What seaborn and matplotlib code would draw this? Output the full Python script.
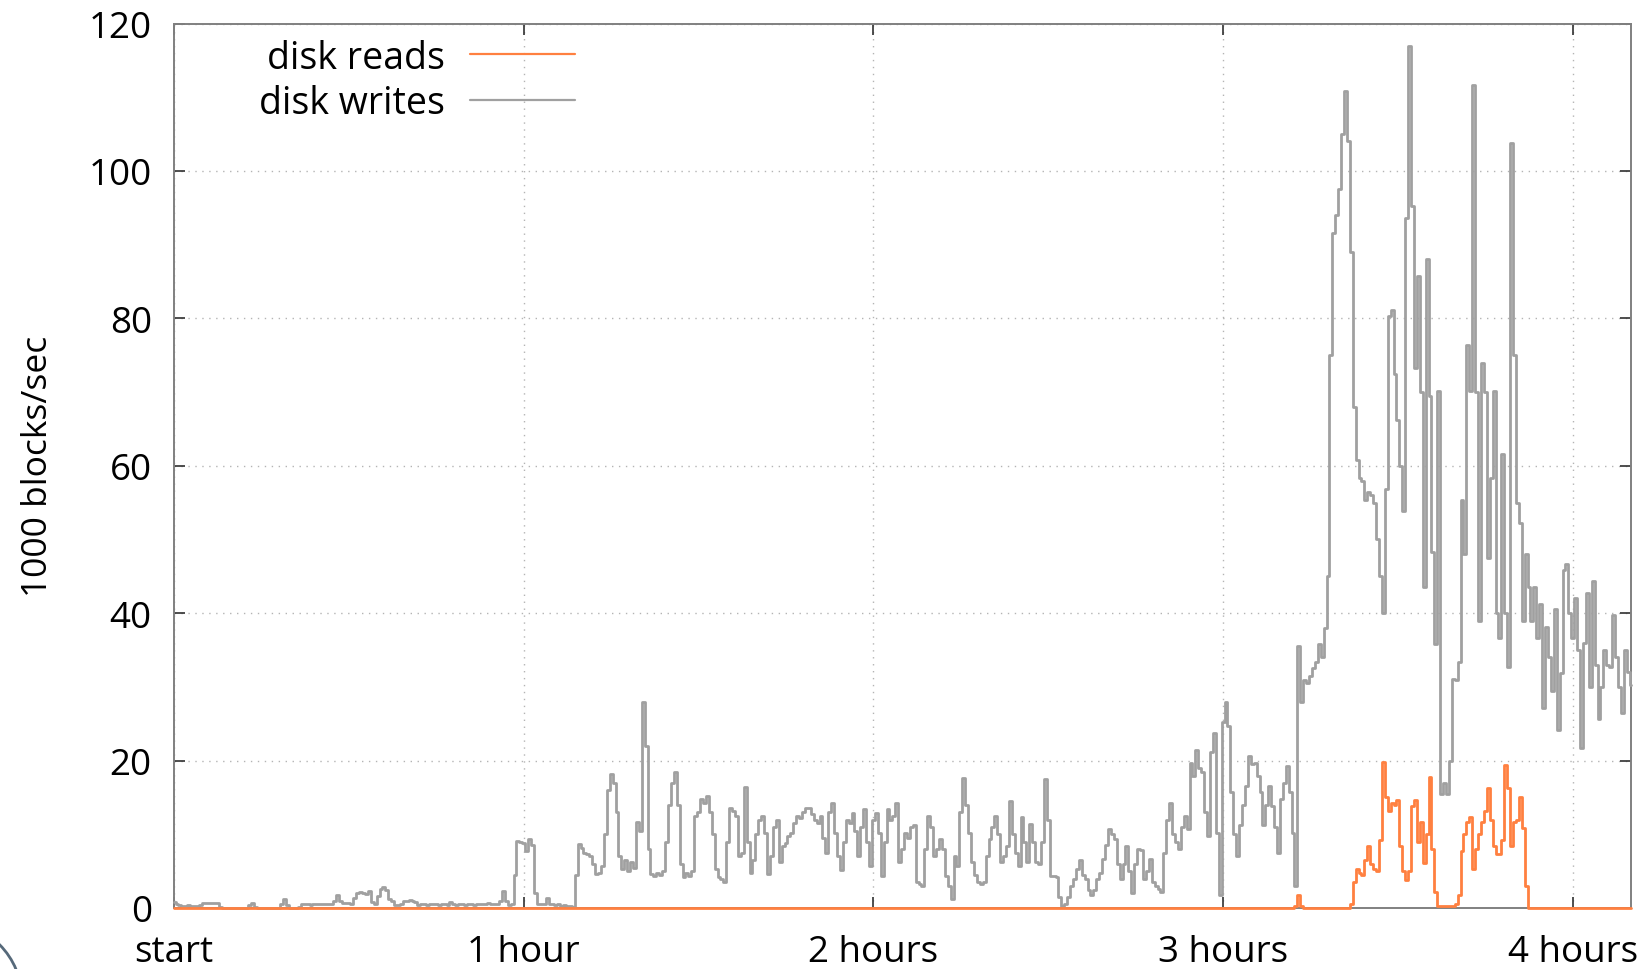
import numpy as np
import pandas as pd
import matplotlib
matplotlib.use("Agg")
import matplotlib.pyplot as plt
from matplotlib.patches import Arc
import seaborn as sns

# Sampling interval of the disk counters, in minutes
SAMPLE_MINUTES = 0.5

# Disk writes, 1000 blocks/sec, one value per half minute (rows = 10 minutes)
writes = [
    0.8, 0.6, 0.4, 0.3, 0.3, 0.4, 0.3, 0.3, 0.3, 0.4, 0.7, 0.7, 0.7, 0.7, 0.7, 0.7, 0.2, 0.0, 0.0, 0.0,
    0.0, 0.0, 0.0, 0.0, 0.0, 0.0, 0.4, 0.7, 0.2, 0.0, 0.0, 0.0, 0.0, 0.0, 0.0, 0.0, 0.0, 0.5, 1.2, 0.4,
    0.0, 0.0, 0.0, 0.2, 0.5, 0.5, 0.5, 0.4, 0.5, 0.5, 0.5, 0.5, 0.6, 0.5, 0.5, 1.0, 1.7, 0.9, 0.7, 0.7,
    0.7, 0.6, 1.4, 2.0, 2.2, 2.1, 1.9, 2.3, 0.8, 0.5, 1.6, 2.6, 2.9, 2.4, 1.2, 0.9, 0.4, 0.4, 0.5, 0.9,
    1.0, 1.1, 0.9, 0.8, 0.4, 0.5, 0.6, 0.4, 0.5, 0.6, 0.5, 0.4, 0.6, 0.5, 0.4, 0.8, 0.5, 0.4, 0.5, 0.5,
    0.4, 0.5, 0.6, 0.4, 0.5, 0.5, 0.6, 0.5, 0.7, 0.5, 0.6, 0.5, 0.9, 2.3, 1.0, 0.4, 0.5, 4.5, 9.1, 8.9,
    8.8, 7.7, 9.4, 8.5, 2.0, 0.5, 0.5, 0.6, 1.4, 0.5, 0.6, 0.4, 0.5, 0.3, 0.4, 0.3, 0.3, 0.2, 4.5, 8.7,
    8.2, 7.5, 7.3, 7.0, 6.0, 4.6, 4.8, 5.7, 10.0, 16.0, 18.2, 17.0, 13.0, 7.0, 5.3, 6.5, 5.0, 6.2, 5.4, 11.6,
    10.5, 27.9, 22.0, 8.0, 4.6, 4.4, 4.8, 4.5, 5.0, 9.0, 14.0, 17.0, 18.4, 14.0, 6.0, 4.2, 4.8, 4.4, 5.0, 12.5,
    13.0, 14.8, 14.2, 15.2, 13.0, 10.0, 5.3, 4.2, 3.9, 3.5, 9.0, 13.6, 13.2, 12.5, 7.1, 7.4, 16.4, 9.0, 4.8, 6.5,
    10.0, 12.0, 12.5, 10.2, 4.6, 7.0, 11.0, 12.0, 6.2, 8.4, 8.8, 9.8, 10.2, 11.5, 12.5, 12.2, 13.0, 13.5, 13.6, 12.8,
    12.0, 11.5, 12.5, 9.5, 7.5, 13.0, 14.3, 10.2, 7.0, 5.1, 9.0, 12.0, 11.5, 12.9, 10.5, 7.1, 11.0, 13.4, 9.0, 5.7,
    12.0, 12.9, 10.2, 4.4, 9.0, 13.4, 12.0, 12.5, 14.3, 6.2, 8.0, 10.2, 9.5, 11.0, 11.2, 3.5, 3.2, 3.0, 8.0, 12.5,
    11.0, 7.1, 8.0, 9.3, 8.0, 4.4, 3.0, 1.2, 7.1, 5.7, 13.0, 17.7, 14.0, 10.2, 6.2, 4.5, 3.5, 3.2, 3.5, 7.0,
    9.3, 11.0, 12.5, 10.0, 6.2, 7.0, 8.4, 14.5, 10.0, 7.5, 5.7, 12.3, 9.0, 6.2, 11.4, 9.0, 6.2, 6.0, 9.0, 17.5,
    12.0, 4.4, 4.4, 4.2, 1.5, 0.3, 0.5, 1.5, 3.0, 4.0, 5.3, 6.5, 4.5, 3.9, 2.5, 1.7, 2.5, 4.0, 4.8, 6.6,
    8.5, 10.7, 10.0, 9.3, 6.0, 3.9, 6.0, 8.4, 5.0, 2.1, 6.0, 8.0, 7.8, 3.9, 5.0, 6.6, 3.5, 3.0, 2.6, 2.2,
    7.5, 12.0, 14.3, 10.0, 8.9, 8.0, 11.0, 12.5, 10.7, 19.7, 17.9, 21.5, 19.0, 18.5, 13.0, 9.8, 21.1, 23.8, 10.2, 1.7,
    25.2, 27.9, 24.7, 15.7, 10.0, 7.1, 11.2, 14.0, 16.6, 20.6, 19.5, 19.7, 17.9, 15.7, 11.2, 14.0, 16.6, 13.9, 11.0, 7.5,
    14.8, 17.0, 19.3, 15.7, 10.2, 3.0, 35.5, 28.0, 31.0, 30.5, 31.5, 32.5, 33.4, 35.8, 34.0, 38.0, 45.0, 75.0, 91.6, 94.0,
    97.5, 105.0, 110.8, 104.0, 89.0, 68.0, 60.8, 58.4, 58.0, 55.3, 56.5, 56.0, 55.0, 50.0, 45.0, 40.0, 56.9, 80.3, 81.1, 72.5,
    66.2, 60.0, 53.8, 93.6, 117.0, 95.2, 73.3, 85.8, 70.0, 43.6, 88.1, 69.4, 48.3, 35.8, 70.2, 15.5, 17.0, 15.5, 20.0, 31.1,
    31.0, 33.4, 55.3, 48.0, 76.4, 70.2, 111.6, 70.0, 38.9, 74.0, 70.0, 47.5, 58.4, 70.2, 40.0, 36.6, 61.6, 40.0, 32.7, 103.8,
    75.0, 55.0, 52.2, 38.9, 48.0, 43.6, 38.9, 43.6, 36.6, 41.3, 27.2, 38.1, 34.0, 29.5, 40.5, 24.1, 31.9, 45.9, 46.7, 40.0,
    36.6, 42.0, 35.0, 21.7, 36.0, 42.8, 30.0, 44.4, 33.0, 25.6, 30.0, 35.0, 33.0, 32.7, 39.7, 34.0, 30.0, 26.4, 35.0, 32.0,
    30.3,
]

# Disk reads, 1000 blocks/sec, same clock
reads = [
    0, 0, 0, 0, 0, 0, 0, 0, 0, 0, 0, 0, 0, 0, 0, 0, 0, 0, 0, 0,
    0, 0, 0, 0, 0, 0, 0, 0, 0, 0, 0, 0, 0, 0, 0, 0, 0, 0, 0, 0,
    0, 0, 0, 0, 0, 0, 0, 0, 0, 0, 0, 0, 0, 0, 0, 0, 0, 0, 0, 0,
    0, 0, 0, 0, 0, 0, 0, 0, 0, 0, 0, 0, 0, 0, 0, 0, 0, 0, 0, 0,
    0, 0, 0, 0, 0, 0, 0, 0, 0, 0, 0, 0, 0, 0, 0, 0, 0, 0, 0, 0,
    0, 0, 0, 0, 0, 0, 0, 0, 0, 0, 0, 0, 0, 0, 0, 0, 0, 0, 0, 0,
    0, 0, 0, 0, 0, 0, 0, 0, 0, 0, 0, 0, 0, 0, 0, 0, 0, 0, 0, 0,
    0, 0, 0, 0, 0, 0, 0, 0, 0, 0, 0, 0, 0, 0, 0, 0, 0, 0, 0, 0,
    0, 0, 0, 0, 0, 0, 0, 0, 0, 0, 0, 0, 0, 0, 0, 0, 0, 0, 0, 0,
    0, 0, 0, 0, 0, 0, 0, 0, 0, 0, 0, 0, 0, 0, 0, 0, 0, 0, 0, 0,
    0, 0, 0, 0, 0, 0, 0, 0, 0, 0, 0, 0, 0, 0, 0, 0, 0, 0, 0, 0,
    0, 0, 0, 0, 0, 0, 0, 0, 0, 0, 0, 0, 0, 0, 0, 0, 0, 0, 0, 0,
    0, 0, 0, 0, 0, 0, 0, 0, 0, 0, 0, 0, 0, 0, 0, 0, 0, 0, 0, 0,
    0, 0, 0, 0, 0, 0, 0, 0, 0, 0, 0, 0, 0, 0, 0, 0, 0, 0, 0, 0,
    0, 0, 0, 0, 0, 0, 0, 0, 0, 0, 0, 0, 0, 0, 0, 0, 0, 0, 0, 0,
    0, 0, 0, 0, 0, 0, 0, 0, 0, 0, 0, 0, 0, 0, 0, 0, 0, 0, 0, 0,
    0, 0, 0, 0, 0, 0, 0, 0, 0, 0, 0, 0, 0, 0, 0, 0, 0, 0, 0, 0,
    0, 0, 0, 0, 0, 0, 0, 0, 0, 0, 0, 0, 0, 0, 0, 0, 0, 0, 0, 0,
    0, 0, 0, 0, 0, 0, 0, 0, 0, 0, 0, 0, 0, 0, 0, 0, 0, 0, 0, 0,
    0, 0, 0, 0, 0, 0.3, 1.8, 0.3, 0, 0, 0, 0, 0, 0, 0, 0, 0, 0, 0, 0,
    0, 0, 0, 0, 0.5, 3.5, 5.3, 4.8, 4.5, 6.5, 8.4, 6.0, 5.3, 5.0, 9.2, 19.8, 15.0, 13.1, 14.3, 14.0,
    14.7, 8.4, 5.0, 3.8, 5.0, 13.9, 14.7, 9.0, 11.6, 6.1, 10.0, 17.8, 8.0, 2.2, 0.3, 0.3, 0.3, 0.3, 0.3, 0.3,
    0.5, 1.8, 7.7, 10.0, 11.6, 12.3, 5.3, 8.0, 10.0, 11.6, 13.1, 16.3, 12.0, 8.4, 7.3, 7.3, 9.2, 19.4, 16.3, 8.4,
    11.6, 12.0, 15.1, 10.8, 3.0, 0, 0, 0, 0, 0, 0, 0, 0, 0, 0, 0, 0, 0, 0, 0,
    0, 0, 0, 0, 0, 0, 0, 0, 0, 0, 0, 0, 0, 0, 0, 0, 0, 0, 0, 0,
    0,
]

hour_ticks = [0, 60, 120, 180, 240]
hour_labels = ["start", "1 hour", "2 hours", "3 hours", "4 hours"]
rate_ticks = [0, 20, 40, 60, 80, 100, 120]
series_colors = {"disk reads": "#ff8040", "disk writes": "#a0a0a0"}

minutes = np.arange(len(writes)) * SAMPLE_MINUTES
df = pd.DataFrame({
    "minutes": np.concatenate([minutes, minutes]),
    "rate": np.array(writes + reads, dtype=float),
    "series": ["disk writes"] * len(writes) + ["disk reads"] * len(reads),
})

sns.set_theme(style="white")
plt.rcParams["font.family"] = ["Open Sans", "DejaVu Sans"]
plt.rcParams["text.color"] = "black"
plt.rcParams["axes.labelcolor"] = "black"

fig = plt.figure(figsize=(16.5, 9.7), dpi=100)
ax = fig.add_axes([0.1055, 0.0629, 0.883, 0.9118])

sns.lineplot(
    data=df, x="minutes", y="rate", hue="series",
    hue_order=["disk writes", "disk reads"], palette=series_colors,
    estimator=None, drawstyle="steps-mid", linewidth=2.0, ax=ax,
)
for ln in ax.lines:
    ln.set_clip_on(False)
    ln.set_zorder(3)

ax.set_xlim(0, 250)
ax.set_ylim(0, 120)
ax.set_xticks(hour_ticks)
ax.set_xticklabels(hour_labels)
ax.set_yticks(rate_ticks)
ax.set_xlabel("")
ax.set_ylabel("1000 blocks/sec", fontsize=25.5, color="black")
ax.yaxis.set_label_coords(-0.082, 0.5)

ax.grid(True, linestyle=(0, (1, 4)), color="#b4b4b4", linewidth=1.0)
for spine in ax.spines.values():
    spine.set_color("#808080")
    spine.set_linewidth(1.4)
ax.tick_params(direction="in", length=8, width=1.2, color="#303030",
               bottom=True, left=True, top=True, right=True,
               labelsize=26.5, labelcolor="black")
ax.tick_params(axis="x", pad=19)
ax.tick_params(axis="y", pad=16)

# Legend in gnuplot style: right-aligned labels followed by the line sample
handles, labels = ax.get_legend_handles_labels()
order = [labels.index("disk reads"), labels.index("disk writes")]
leg = ax.legend(
    [handles[i] for i in order], [labels[i] for i in order],
    loc="upper left", bbox_to_anchor=(0.058, 0.983), frameon=False,
    markerfirst=False, fontsize=27, handlelength=2.8, handletextpad=0.67,
    labelspacing=0.2, borderpad=0, borderaxespad=0,
)
for h in leg.legend_handles:
    h.set_linewidth(1.6)
for t in leg.get_texts():
    t.set_color("black")

# Corner ornament of the slide template
fig.patches.append(Arc((-55 / 1650, -30 / 970), 154 / 1650, 154 / 970,
                       theta1=0, theta2=90, transform=fig.transFigure,
                       color="#56697a", linewidth=2.0))

fig.savefig("out.png", dpi=100)
